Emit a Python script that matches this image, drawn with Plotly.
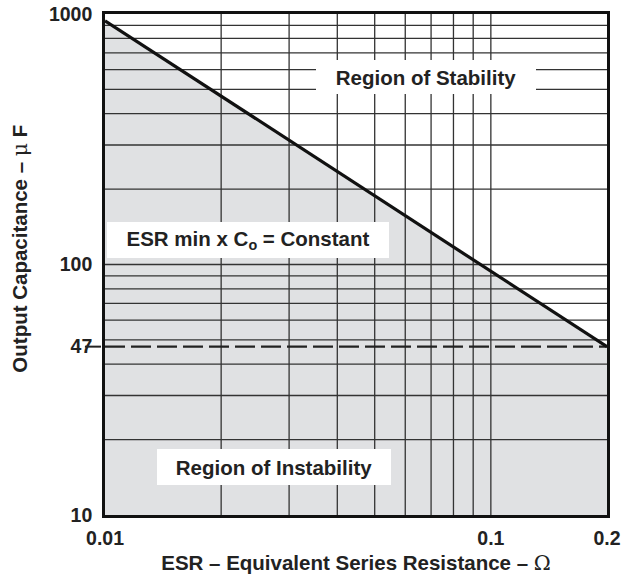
import plotly.graph_objects as go

# ---- data ----
esr_line = [0.01, 0.2]            # ESR (ohm) endpoints of boundary
cap_line = [940, 47]              # Output capacitance (uF) along ESR*C = const
cap_min = 47                      # dashed minimum capacitance
x_range = [0.01, 0.2]
y_range = [10, 1000]
x_grid = [0.02, 0.03, 0.04, 0.05, 0.06, 0.07, 0.08, 0.09, 0.1]
y_grid = [20, 30, 40, 50, 60, 70, 80, 90, 100, 200, 300, 400, 500, 600, 700, 800, 900]
x_ticks = [0.01, 0.1, 0.2]
x_ticktext = ["0.01", "0.1", "0.2"]
y_ticks = [10, 47, 100, 1000]
y_ticktext = ["10", "47", "100", "1000"]

FONT = "Liberation Sans, Arial, sans-serif"
FILL = "#e0e1e3"
GRID = "#333333"
TXT = "#222222"

fig = go.Figure()

# shaded region of instability (below boundary)
fig.add_trace(go.Scatter(
    x=[esr_line[0], esr_line[1], x_range[1], x_range[0]],
    y=[cap_line[0], cap_line[1], y_range[0], y_range[0]],
    fill="toself", fillcolor=FILL, mode="lines", line=dict(width=0),
    hoverinfo="skip", showlegend=False))

# grid lines (drawn over fill)
gx, gy = [], []
for v in x_grid:
    gx += [v, v, None]
    gy += [y_range[0], y_range[1], None]
for v in y_grid:
    gx += [x_range[0], x_range[1], None]
    gy += [v, v, None]
fig.add_trace(go.Scatter(x=gx, y=gy, mode="lines",
                         line=dict(color=GRID, width=1.3),
                         hoverinfo="skip", showlegend=False))

# dashed minimum capacitance
fig.add_trace(go.Scatter(x=x_range, y=[cap_min, cap_min], mode="lines",
                         line=dict(color=TXT, width=2.2, dash="20px,6px"),
                         hoverinfo="skip", showlegend=False))

# boundary line
fig.add_trace(go.Scatter(x=esr_line, y=cap_line, mode="lines",
                         line=dict(color="#111111", width=3.2),
                         hoverinfo="skip", showlegend=False))

# tick mark at 47
fig.add_shape(type="line", xref="x domain", yref="y",
              x0=-0.04, x1=-0.008, y0=cap_min, y1=cap_min,
              line=dict(color=TXT, width=2))

# labels with white boxes
def label(text, x, y, w, h):
    fig.add_annotation(text=text, xref="paper", yref="paper", x=x, y=y,
                       xanchor="center", yanchor="middle",
                       showarrow=False, bgcolor="white", borderpad=0,
                       borderwidth=0, width=w, height=h,
                       font=dict(family=FONT, size=20.5, color=TXT, weight="bold"))

label("Region of Stability", 0.639, 0.874, 220, 34)
label("ESR min x C<sub>o</sub> = Constant", 0.285, 0.549, 282, 36)
label("Region of Instability", 0.337, 0.096, 234, 36)

# y axis title as rotated text
fig.add_annotation(text="Output Capacitance – <span style='font-family:DejaVu Serif;font-weight:normal'>μ</span> F",
                   xref="paper", yref="paper", x=-0.169, y=0.532,
                   xanchor="center", yanchor="middle", textangle=-90, showarrow=False,
                   font=dict(family=FONT, size=20.5, color=TXT, weight="bold"))

axis_common = dict(type="log", showgrid=False, zeroline=False, automargin=False,
                   showline=True, mirror=True, linecolor="#111111", linewidth=2.6,
                   ticks="", tickfont=dict(family=FONT, size=19.5, color=TXT, weight="bold"))

fig.update_xaxes(range=[-2, -0.69897], tickvals=x_ticks, ticktext=x_ticktext,
                 ticklabelstandoff=4,
                 title=dict(text="ESR – Equivalent Series Resistance – <span style='font-family:DejaVu Serif;font-weight:normal'>Ω</span>",
                            font=dict(family=FONT, size=20.5, color=TXT, weight="bold"),
                            standoff=12),
                 **axis_common)
fig.update_yaxes(range=[1, 3], tickvals=y_ticks, ticktext=y_ticktext,
                 ticklabelstandoff=6, **axis_common)

fig.update_layout(width=624, height=575, plot_bgcolor="white", paper_bgcolor="white",
                  margin=dict(l=105, r=17, t=14, b=60, autoexpand=False), showlegend=False,
                  hovermode=False)

fig.write_html("out.html", config={"displayModeBar": False},
               post_script="document.body.style.margin='0px';")
